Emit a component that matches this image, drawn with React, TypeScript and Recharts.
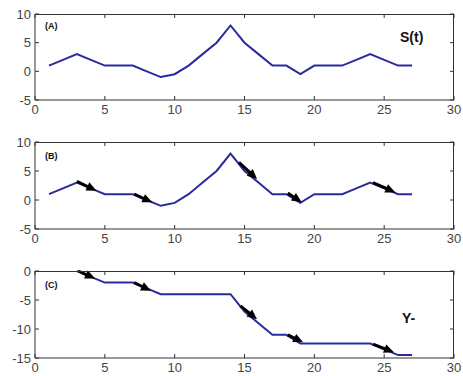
import React from "react";
import {
	ComposedChart,
	Line,
	ReferenceLine,
	XAxis,
	YAxis,
} from "recharts";

const times = [
	1, 2, 3, 4, 5, 6, 7, 8, 9, 10, 11, 12, 13, 14, 15, 16, 17, 18, 19, 20, 21, 22,
	23, 24, 25, 26, 27,
];
const signal = [
	1, 2, 3, 2, 1, 1, 1, 0, -1, -0.5, 1, 3, 5, 8, 5, 3, 1, 1, -0.5, 1, 1, 1, 2, 3,
	2, 1, 1,
];
const yMinus = [
	null, null, 0, -1, -2, -2, -2, -3, -4, -4, -4, -4, -4, -4, -7, -9, -11, -11,
	-12.5, -12.5, -12.5, -12.5, -12.5, -12.5, -13.5, -14.5, -14.5,
];

const xTicks = [0, 5, 10, 15, 20, 25, 30];
const yTicksS = [-5, 0, 5, 10];
const yTicksY = [-15, -10, -5, 0];

// arrows: [x1, y1, x2, y2] in data units
const arrowsB = [
	[3, 3.2, 4.4, 1.6],
	[7.1, 1, 8.4, -0.4],
	[14.6, 6.5, 15.9, 3.6],
	[18.1, 1.2, 19.1, -0.4],
	[24.2, 3, 25.8, 1.3],
];
const arrowsC = [
	[3.1, 0, 4.3, -1.3],
	[7.1, -2, 8.3, -3.4],
	[14.7, -6, 15.9, -8.3],
	[18.1, -11, 19.2, -12.3],
	[24.2, -12.6, 25.7, -14],
];

const dataS = times.map((t, i) => ({ t, v: signal[i] }));
const dataY = times.map((t, i) => ({ t, v: yMinus[i] }));

const FONT = "'Liberation Sans', Arial, sans-serif";
const AXIS = "#333333";
const LABEL = "#444444";
const LINE = "#2a2a9e";
const TICK = 4;
const X_DOMAIN: [number, number] = [0, 30];

const CHART_W = 463;
const M = { top: 14, right: 9, bottom: 5, left: 5 };
const X_AXIS_H = 20;
const Y_AXIS_W = 30;
const PLOT_LEFT = M.left + Y_AXIS_W;
const PLOT_RIGHT = CHART_W - M.right;

function Arrow(props: any) {
	const { x1, y1, x2, y2 } = props;
	const dx = x2 - x1;
	const dy = y2 - y1;
	const len = Math.sqrt(dx * dx + dy * dy) || 1;
	const ux = dx / len;
	const uy = dy / len;
	const head = 10;
	const half = 4.5;
	const bx = x2 - ux * head;
	const by = y2 - uy * head;
	const pts = [
		`${x2},${y2}`,
		`${bx - uy * half},${by + ux * half}`,
		`${bx + uy * half},${by - ux * half}`,
	].join(" ");
	return (
		<g>
			<line x1={x1} y1={y1} x2={bx + ux * 2} y2={by + uy * 2} stroke="#000" strokeWidth={3} />
			<polygon points={pts} fill="#000" />
		</g>
	);
}

// x tick: label below, inward tick marks at bottom and top
function makeXTick(plotTop: number, plotBottom: number) {
	return (props: any) => {
		const { payload } = props;
		const cx = payload.coordinate;
		return (
			<g>
				<line x1={cx} y1={plotBottom} x2={cx} y2={plotBottom - TICK} stroke={AXIS} />
				<line x1={cx} y1={plotTop} x2={cx} y2={plotTop + TICK} stroke={AXIS} />
				<text
					x={cx}
					y={plotBottom + 5}
					dy="0.71em"
					textAnchor="middle"
					fill={LABEL}
					fontSize={13}
					fontFamily={FONT}
				>
					{payload.value}
				</text>
			</g>
		);
	};
}

// y tick: label left, inward tick marks at left and right
function makeYTick() {
	return (props: any) => {
		const { payload } = props;
		const cy = payload.coordinate;
		return (
			<g>
				<line x1={PLOT_LEFT} y1={cy} x2={PLOT_LEFT + TICK} y2={cy} stroke={AXIS} />
				<line x1={PLOT_RIGHT} y1={cy} x2={PLOT_RIGHT - TICK} y2={cy} stroke={AXIS} />
				<text
					x={PLOT_LEFT - 4}
					y={cy}
					dy="0.355em"
					textAnchor="end"
					fill={LABEL}
					fontSize={13}
					fontFamily={FONT}
				>
					{payload.value}
				</text>
			</g>
		);
	};
}

interface PanelProps {
	data: Array<{ t: number; v: number | null }>;
	yDomain: [number, number];
	yTicks: number[];
	arrows: number[][];
	height: number;
}

function Panel({ data, yDomain, yTicks, arrows, height }: PanelProps) {
	const plotTop = M.top;
	const plotBottom = height - M.bottom - X_AXIS_H;
	return (
		<div style={{ position: "relative", width: CHART_W, height }}>
			<ComposedChart width={CHART_W} height={height} data={data} margin={M}>
				<XAxis
					dataKey="t"
					type="number"
					domain={X_DOMAIN}
					ticks={xTicks}
					height={X_AXIS_H}
					tickLine={false}
					stroke={AXIS}
					tick={makeXTick(plotTop, plotBottom)}
					interval={0}
				/>
				<YAxis
					type="number"
					domain={yDomain}
					ticks={yTicks}
					width={Y_AXIS_W}
					tickLine={false}
					stroke={AXIS}
					tick={makeYTick()}
					interval={0}
				/>
				<Line
					type="linear"
					dataKey="v"
					stroke={LINE}
					strokeWidth={2}
					dot={false}
					activeDot={false}
					isAnimationActive={false}
				/>
				{arrows.map((a, i) => (
					<ReferenceLine
						key={i}
						segment={[
							{ x: a[0], y: a[1] },
							{ x: a[2], y: a[3] },
						]}
						ifOverflow="visible"
						shape={Arrow}
					/>
				))}
			</ComposedChart>
			{/* plot box frame */}
			<div
				style={{
					position: "absolute",
					left: PLOT_LEFT,
					top: plotTop,
					width: PLOT_RIGHT - PLOT_LEFT,
					height: plotBottom - plotTop,
					borderTop: `1px solid ${AXIS}`,
					borderRight: `1px solid ${AXIS}`,
					boxSizing: "border-box",
					pointerEvents: "none",
				}}
			/>
		</div>
	);
}

const labelBase: React.CSSProperties = {
	position: "absolute",
	fontFamily: FONT,
	fontWeight: "bold",
	color: "#111",
	lineHeight: 1,
};

export default function App() {
	return (
		<div
			style={{
				position: "absolute",
				left: 0,
				top: 0,
				width: 463,
				height: 376,
				background: "#fff",
			}}
		>
			<div style={{ position: "absolute", left: 0, top: 0 }}>
				<Panel data={dataS} yDomain={[-5, 10]} yTicks={yTicksS} arrows={[]} height={125} />
			</div>
			<div style={{ position: "absolute", left: 0, top: 128 }}>
				<Panel data={dataS} yDomain={[-5, 10]} yTicks={yTicksS} arrows={arrowsB} height={126} />
			</div>
			<div style={{ position: "absolute", left: 0, top: 257 }}>
				<Panel data={dataY} yDomain={[-15, 0]} yTicks={yTicksY} arrows={arrowsC} height={126} />
			</div>
			<div style={{ ...labelBase, left: 45, top: 22, fontSize: 9 }}>(A)</div>
			<div style={{ ...labelBase, left: 400, top: 30, fontSize: 14 }}>S(t)</div>
			<div style={{ ...labelBase, left: 45, top: 152, fontSize: 9 }}>(B)</div>
			<div style={{ ...labelBase, left: 45, top: 281, fontSize: 9 }}>(C)</div>
			<div style={{ ...labelBase, left: 402, top: 311, fontSize: 14 }}>Y-</div>
		</div>
	);
}
